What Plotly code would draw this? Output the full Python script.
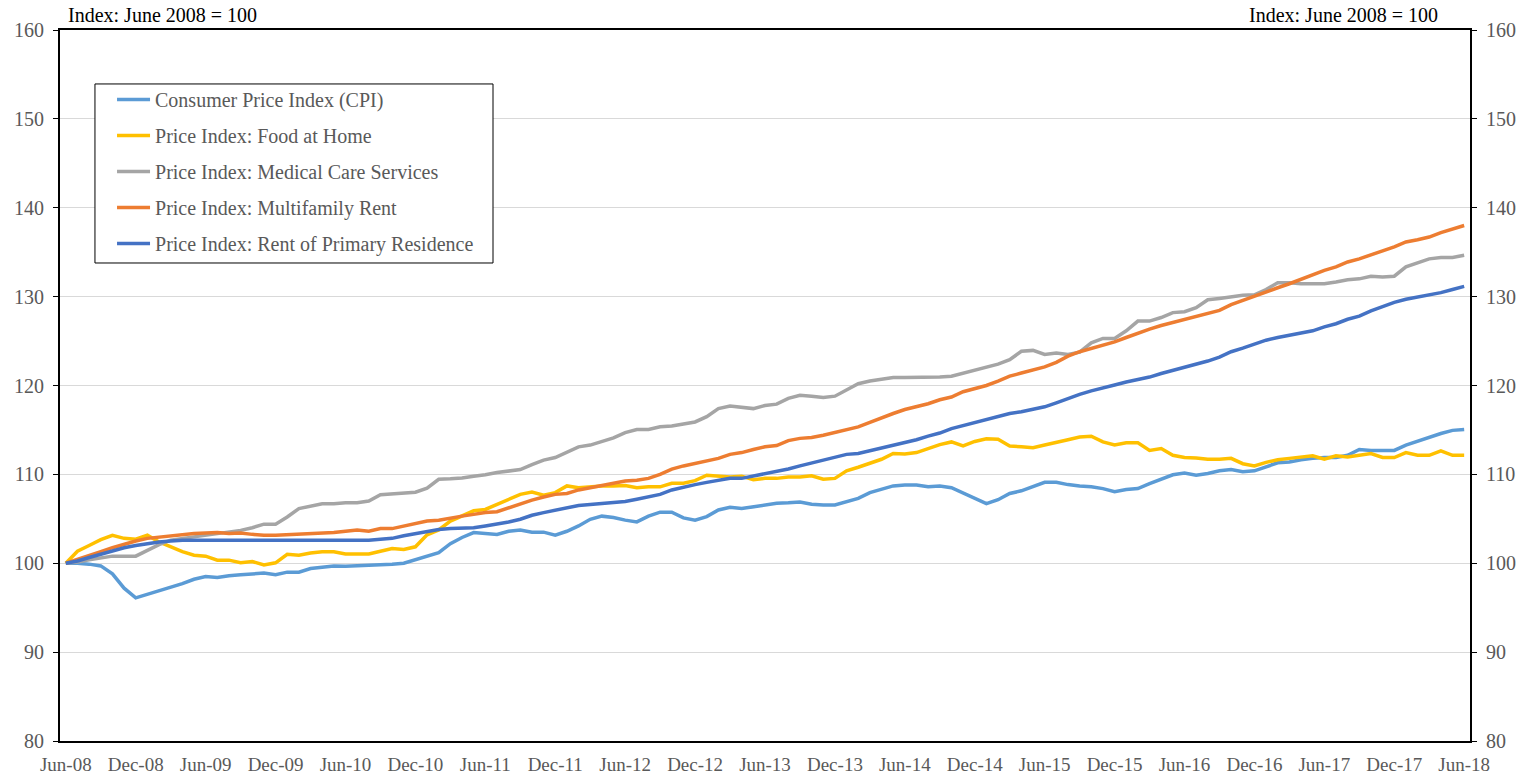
"""Indices de precios mensuales, base junio 2008 = 100."""

import plotly.graph_objects as go

# Meses: Jun-08 ... Jun-18 (121 observaciones)
months = [f"{m}-{y:02d}" for y in range(8, 19) for m in
          ["Jan", "Feb", "Mar", "Apr", "May", "Jun", "Jul", "Aug", "Sep", "Oct", "Nov", "Dec"]][5:126]

tick_labels = ["Jun-08", "Dec-08", "Jun-09", "Dec-09", "Jun-10", "Dec-10", "Jun-11",
               "Dec-11", "Jun-12", "Dec-12", "Jun-13", "Dec-13", "Jun-14", "Dec-14",
               "Jun-15", "Dec-15", "Jun-16", "Dec-16", "Jun-17", "Dec-17", "Jun-18"]

cpi = [100.0, 100.0, 99.9, 99.7, 98.8, 97.2, 96.1, 96.5, 97.0, 97.3, 97.7, 98.2, 98.5,
       98.4, 98.6, 98.7, 98.8, 98.9, 98.7, 99.0, 99.0, 99.4, 99.55, 99.7, 99.65,
       99.7, 99.75, 99.85, 99.9, 100.0, 100.4, 100.8, 101.2, 102.2,
       102.9, 103.45, 103.3, 103.25, 103.6, 103.75, 103.5, 103.5, 103.15, 103.6, 104.2,
       104.95, 105.3, 105.15, 104.85,
       104.65, 105.3, 105.75, 105.75, 105.1, 104.85, 105.25, 106.0, 106.3, 106.15, 106.35,
       106.55, 106.75, 106.8, 106.9, 106.65, 106.55, 106.55, 106.9, 107.3, 107.95, 108.35,
       108.7, 108.8,
       108.8, 108.6, 108.7, 108.5, 107.9, 107.3, 106.7, 107.15, 107.85, 108.15, 108.65,
       109.1, 109.1, 108.85, 108.7, 108.6, 108.4, 108.05, 108.3, 108.4, 108.95, 109.4,
       109.95, 110.15,
       109.9, 110.1, 110.4, 110.55, 110.3, 110.4, 110.9, 111.3, 111.4, 111.65, 111.8, 111.9,
       111.9, 112.15, 112.8, 112.7, 112.7, 112.7, 113.3, 113.75, 114.15, 114.6, 114.95, 115.05]

food_home = [100.0, 101.35, 102.0, 102.65, 103.15, 102.8, 102.7, 103.15, 102.4, 101.85, 101.3,
             100.9, 100.8, 100.35, 100.35, 100.05, 100.2, 99.8, 100.05, 101.0, 100.9, 101.15,
             101.3, 101.3, 101.05,
             101.05, 101.05, 101.35, 101.65, 101.55, 101.85, 103.2, 103.75, 104.75, 105.3, 105.9,
             106.05, 106.6, 107.25, 107.75, 108.0, 107.65, 107.95, 108.7, 108.5, 108.6, 108.7,
             108.7, 108.75,
             108.5, 108.6, 108.6, 109.0, 109.0, 109.3, 109.9, 109.8, 109.7, 109.8, 109.4, 109.55,
             109.55, 109.7, 109.7, 109.85, 109.45, 109.55, 110.4, 110.8, 111.25, 111.7, 112.35,
             112.3,
             112.45, 112.9, 113.35, 113.65, 113.2, 113.7, 114.0, 113.95, 113.2, 113.1, 113.0,
             113.3, 113.55, 113.9, 114.2, 114.3, 113.65, 113.3, 113.55, 113.55, 112.7, 112.9,
             112.15, 111.9,
             111.85, 111.7, 111.7, 111.8, 111.2, 110.95, 111.35, 111.65, 111.8, 111.95, 112.1,
             111.7, 112.1, 111.95, 112.2, 112.35, 111.9, 111.9, 112.45, 112.15, 112.15, 112.65,
             112.15, 112.15]

medical = [100.0, 100.15, 100.4, 100.6, 100.8, 100.8, 100.8, 101.45, 102.1, 102.6, 102.8,
           102.95, 103.1, 103.35, 103.5, 103.7, 104.0, 104.4, 104.4, 105.2, 106.15, 106.4,
           106.7, 106.7, 106.8,
           106.8, 107.0, 107.7, 107.8, 107.85, 108.0, 108.45, 109.45, 109.5, 109.6, 109.8,
           109.95, 110.2, 110.4, 110.55, 111.1, 111.6, 111.9, 112.5, 113.1, 113.3, 113.65,
           114.1, 114.7,
           115.05, 115.05, 115.35, 115.45, 115.65, 115.9, 116.5, 117.4, 117.7, 117.55, 117.4,
           117.75, 117.9, 118.55, 118.9, 118.8, 118.65, 118.8, 119.55, 120.2, 120.5, 120.65,
           120.9, 120.9,
           120.9, 120.9, 120.95, 121.05, 121.4, 121.7, 122.15, 122.4, 122.9, 123.85, 123.95,
           123.5, 123.65, 123.5, 123.75, 124.8, 125.3, 125.3, 126.15, 127.25, 127.25, 127.65,
           128.2, 128.3,
           128.75, 129.65, 129.8, 129.95, 130.15, 130.2, 130.8, 131.55, 131.55, 131.45, 131.45,
           131.45, 131.65, 131.9, 132.0, 132.3, 132.2, 132.3, 133.35, 133.8, 134.25, 134.4,
           134.4, 134.65]

multifamily = [100.0, 100.4, 100.9, 101.3, 101.75, 102.15, 102.5, 102.8, 102.95, 103.1, 103.25,
               103.35, 103.4, 103.45, 103.35, 103.4, 103.25, 103.15, 103.15, 103.2, 103.25,
               103.35, 103.4, 103.45, 103.6,
               103.75, 103.6, 103.9, 103.9, 104.2, 104.45, 104.75, 104.85, 105.1, 105.3, 105.5,
               105.7, 105.8, 106.25, 106.7, 107.1, 107.45, 107.75, 107.85, 108.25, 108.5,
               108.75, 109.05, 109.25,
               109.35, 109.55, 110.0, 110.6, 110.95, 111.2, 111.55, 111.8, 112.25, 112.45, 112.8,
               113.1, 113.25, 113.8, 114.05, 114.15, 114.4, 114.75, 115.1, 115.35, 115.85, 116.4,
               116.85, 117.3,
               117.6, 117.95, 118.4, 118.7, 119.3, 119.65, 120.0, 120.5, 121.05, 121.4, 121.7,
               122.1, 122.6, 123.3, 123.8, 124.15, 124.55, 124.9, 125.4, 125.9, 126.35, 126.75,
               127.1, 127.4,
               127.75, 128.15, 128.45, 129.1, 129.6, 130.1, 130.5, 131.0, 131.45, 131.95, 132.5,
               132.95, 133.35, 133.9, 134.25, 134.65, 135.15, 135.6, 136.15, 136.4, 136.7, 137.2,
               137.55, 138.0]

rent_primary = [100.0, 100.25, 100.65, 101.0, 101.45, 101.75, 102.0, 102.2, 102.4, 102.5, 102.6,
                102.6, 102.6, 102.6, 102.6, 102.6, 102.6, 102.6, 102.6, 102.6, 102.6, 102.6,
                102.6, 102.6, 102.6,
                102.6, 102.6, 102.7, 102.8, 103.1, 103.35, 103.6, 103.8, 103.9, 103.95, 104.0,
                104.2, 104.4, 104.65, 104.95, 105.4, 105.7, 106.0, 106.25, 106.5, 106.6, 106.7,
                106.8, 106.95,
                107.2, 107.5, 107.75, 108.25, 108.5, 108.85, 109.1, 109.35, 109.55, 109.55, 109.8,
                110.05, 110.3, 110.6, 110.95, 111.3, 111.6, 112.0, 112.25, 112.35, 112.65, 112.9,
                113.25, 113.55,
                113.9, 114.3, 114.65, 115.15, 115.5, 115.9, 116.2, 116.55, 116.85, 117.05, 117.3,
                117.6, 118.05, 118.55, 119.0, 119.4, 119.7, 120.05, 120.4, 120.7, 120.95, 121.35,
                121.7, 122.0,
                122.3, 122.75, 123.2, 123.8, 124.2, 124.7, 125.1, 125.4, 125.65, 125.85, 126.15,
                126.6, 126.95, 127.45, 127.8, 128.4, 128.9, 129.35, 129.7, 129.95, 130.15, 130.45,
                130.8, 131.15]

series = [
    ("Consumer Price Index (CPI)", cpi, "#5B9BD5"),
    ("Price Index: Food at Home", food_home, "#FFC000"),
    ("Price Index: Medical Care Services", medical, "#A5A5A5"),
    ("Price Index: Multifamily Rent", multifamily, "#ED7D31"),
    ("Price Index: Rent of Primary Residence", rent_primary, "#4472C4"),
]

FONT = "Liberation Serif, DejaVu Serif, serif"
GRAY_TXT = "#595959"

x_idx = list(range(len(months)))

fig = go.Figure()
for k, (name, vals, color) in enumerate(series):
    fig.add_trace(go.Scatter(
        x=x_idx, y=vals, mode="lines", name=name,
        line=dict(color=color, width=3.5),
        legendgroup=f"g{k}",
        yaxis="y2" if k == len(series) - 1 else "y",
        customdata=months,
        hovertemplate="%{customdata}: %{y:.1f}<extra>" + name + "</extra>",
    ))

axis_common = dict(
    range=[80, 160], dtick=10, showline=True, linecolor="black", linewidth=2,
    ticks="outside", ticklen=5, tickcolor="black", ticklabelstandoff=5,
    tickfont=dict(family=FONT, size=20, color=GRAY_TXT), automargin=False,
)

# Marco de la leyenda (mas holgado que el de plotly)
fig.add_shape(type="rect", xref="paper", yref="paper",
              x0=0.0248, x1=0.3071, y0=0.6723, y1=0.9241,
              line=dict(color="black", width=1), fillcolor="white", layer="above")

fig.update_layout(
    width=1528, height=778,
    margin=dict(l=60, r=58, t=30, b=37),
    plot_bgcolor="white", paper_bgcolor="white",
    font=dict(family=FONT, color=GRAY_TXT),
    xaxis=dict(
        range=[-0.5, len(months) - 0.5],
        tickvals=list(range(0, len(months), 6)), ticktext=tick_labels,
        tickfont=dict(family=FONT, size=19, color=GRAY_TXT),
        showgrid=False, zeroline=False, automargin=False,
        showline=True, linecolor="black", linewidth=2, mirror=True,
        ticks="", ticklabelstandoff=5,
    ),
    yaxis=dict(**axis_common, side="left",
               showgrid=True, gridcolor="#D9D9D9", gridwidth=1, zeroline=False),
    yaxis2=dict(**axis_common, side="right", overlaying="y", matches="y",
                showgrid=False, zeroline=False),
    legend=dict(
        x=0.0369, y=0.9297, xanchor="left", yanchor="top",
        bgcolor="rgba(0,0,0,0)", borderwidth=0,
        font=dict(family=FONT, size=20, color=GRAY_TXT),
        tracegroupgap=7, itemwidth=33,
    ),
    annotations=[
        dict(text="Index: June 2008 = 100", xref="paper", yref="paper",
             x=0.004, y=1.0, xanchor="left", yanchor="bottom", yshift=2,
             showarrow=False, font=dict(family=FONT, size=20, color="black")),
        dict(text="Index: June 2008 = 100", xref="paper", yref="paper",
             x=0.979, y=1.0, xanchor="right", yanchor="bottom", yshift=2,
             showarrow=False, font=dict(family=FONT, size=20, color="black")),
    ],
)

# sin margen en el body para que la figura empiece en (0, 0)
fig.write_html("out.html", config={"displayModeBar": False},
               post_script="document.body.style.margin = '0';")
